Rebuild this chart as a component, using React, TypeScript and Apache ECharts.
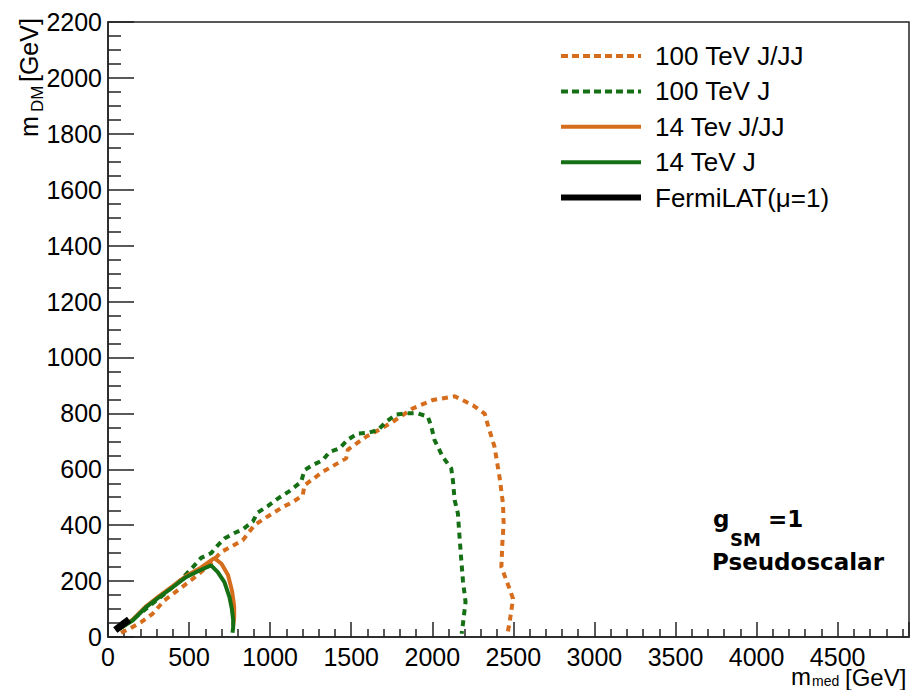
import React, { useEffect, useRef } from "react";
import * as echarts from "echarts";

// ---- data (m_med [GeV], m_DM [GeV]) ----
const seriesNames = ["100 TeV J/JJ", "100 TeV J", "14 Tev J/JJ", "14 TeV J", "FermiLAT(\u03bc=1)"];

const tev100JJJ: number[][] = [
  [80, 15], [132, 29], [204, 53], [275, 83], [348, 131], [430, 167], [512, 203], [560, 225],
  [630, 262], [697, 304], [769, 326], [831, 346], [903, 400], [965, 424], [1078, 465],
  [1140, 483], [1201, 507], [1212, 543], [1325, 591], [1469, 639], [1479, 670], [1593, 717],
  [1675, 742], [1757, 770], [1880, 818], [2004, 848], [2138, 861], [2251, 829], [2323, 799],
  [2343, 758], [2384, 680], [2415, 571], [2436, 477], [2440, 406], [2432, 334], [2426, 250],
  [2457, 203], [2498, 137], [2477, 53], [2465, 16],
];

const tev100J: number[][] = [
  [50, 22], [150, 62], [250, 108], [350, 155], [450, 205], [533, 256], [574, 283], [636, 300],
  [677, 328], [718, 352], [780, 372], [831, 385], [893, 413], [923, 445], [985, 468],
  [1047, 495], [1119, 522], [1191, 555], [1212, 597], [1263, 615], [1325, 633], [1366, 662],
  [1428, 675], [1479, 706], [1541, 728], [1602, 730], [1664, 740], [1716, 770], [1778, 796],
  [1840, 800], [1911, 800], [1973, 788], [1994, 752], [2014, 704], [2065, 644], [2117, 603],
  [2127, 561], [2138, 489], [2158, 442], [2168, 358], [2179, 274], [2189, 202], [2205, 125],
  [2189, 47], [2181, 12],
];

const tev14JJJ: number[][] = [
  [70, 29], [152, 62], [235, 110], [317, 147], [399, 182], [481, 218], [564, 245], [620, 268],
  [656, 282], [700, 262], [740, 222], [765, 165], [778, 110], [778, 70], [772, 40],
];

const tev14J: number[][] = [
  [70, 29], [152, 59], [235, 107], [317, 143], [399, 178], [481, 214], [564, 238], [636, 256],
  [677, 232], [718, 196], [749, 143], [764, 100], [772, 60], [772, 35], [768, 15],
];

const fermiLAT: number[][] = [[45, 25], [90, 45], [130, 62]];

const xTicks = { min: 0, max: 4940, interval: 500 };
const yTicks = { min: 0, max: 2200, interval: 200 };

const ORANGE = "#d56d1c";
const GREEN = "#157015";
const FONT = "'Liberation Sans', Arial, Helvetica, sans-serif";
const BOLD_FONT = "'DejaVu Sans', sans-serif";

export default function App() {
  const ref = useRef<HTMLDivElement>(null);

  useEffect(() => {
    if (!ref.current) return;
    const chart = echarts.init(ref.current, undefined, { renderer: "svg" });

    const dataSets = [tev100JJJ, tev100J, tev14JJJ, tev14J, fermiLAT];
    const colors = [ORANGE, GREEN, ORANGE, GREEN, "#000000"];
    const widths = [4, 4, 4, 4, 7];
    const legendWidths = [4, 4, 4, 4, 6];
    const types: any[] = [[6, 5], [6, 5], "solid", "solid", "solid"];

    const series = dataSets.map((d, i) => ({
      name: seriesNames[i],
      type: "line",
      data: d,
      symbol: "none",
      showSymbol: false,
      color: colors[i],
      lineStyle: { color: colors[i], width: widths[i], type: types[i] },
      z: 2 + i,
    }));

    const legendData = seriesNames.map((n, i) => ({
      name: n,
      itemStyle: { opacity: 0 },
      lineStyle: { color: colors[i], width: legendWidths[i], type: i < 2 ? [7, 4] : "solid" },
    }));

    const txt = (text: string, x: number, y: number, size: number, extra: any = {}) => ({
      type: "text",
      x,
      y,
      style: {
        text,
        fontSize: size,
        fontFamily: FONT,
        fill: "#000",
        textAlign: "left",
        textVerticalAlign: "middle",
        ...extra,
      },
    });

    chart.setOption({
      animation: false,
      backgroundColor: "#fff",
      grid: {
        left: 108,
        right: 3,
        top: 22,
        bottom: 53,
        show: true,
        borderColor: "#222",
        borderWidth: 1.5,
        containLabel: false,
      },
      legend: {
        data: legendData,
        orient: "vertical",
        left: 553,
        top: 38,
        itemWidth: 80,
        itemHeight: 14,
        itemGap: 9.4,
        itemStyle: { opacity: 0 },
        textStyle: {
          fontSize: 26,
          lineHeight: 26,
          fontFamily: FONT,
          color: "#000",
          padding: [0, 0, 0, 9],
        },
      },
      xAxis: {
        type: "value",
        min: xTicks.min,
        max: xTicks.max,
        interval: xTicks.interval,
        axisLine: { show: true, lineStyle: { color: "#222", width: 1.5 } },
        axisTick: { show: true, inside: true, length: 15, lineStyle: { color: "#222", width: 1.5 } },
        minorTick: { show: true, splitNumber: 5, length: 8, lineStyle: { color: "#222", width: 1.5 } },
        splitLine: { show: false },
        axisLabel: {
          fontSize: 25,
          lineHeight: 20,
          fontFamily: FONT,
          color: "#000",
          margin: 10,
          showMaxLabel: false,
          formatter: (v: number) => String(v),
        },
      },
      yAxis: {
        type: "value",
        min: yTicks.min,
        max: yTicks.max,
        interval: yTicks.interval,
        axisLine: { show: true, lineStyle: { color: "#222", width: 1.5 } },
        axisTick: { show: true, inside: true, length: 26, lineStyle: { color: "#222", width: 1.5 } },
        minorTick: { show: true, splitNumber: 4, length: 13, lineStyle: { color: "#222", width: 1.5 } },
        splitLine: { show: false },
        axisLabel: {
          fontSize: 25,
          fontFamily: FONT,
          color: "#000",
          margin: 6,
          formatter: (v: number) => String(v),
        },
      },
      series,
      graphic: [
        // x-axis title
        txt("m", 791, 676, 24, { lineHeight: 16 }),
        txt("med", 812, 681, 14, { lineHeight: 10 }),
        txt("[GeV]", 845, 677, 24, { lineHeight: 16 }),
        // y-axis title (rotated)
        { ...txt("m", 29, 137, 25), rotation: Math.PI / 2 },
        { ...txt("DM", 37, 112, 17), rotation: Math.PI / 2 },
        { ...txt(" [GeV]", 29, 89, 25), rotation: Math.PI / 2 },
        // annotation
        txt("g", 713, 519, 23, { fontFamily: BOLD_FONT, fontWeight: "bold" }),
        txt("SM", 730, 539, 18, { fontFamily: BOLD_FONT, fontWeight: "bold" }),
        txt("=1", 768, 519, 23, { fontFamily: BOLD_FONT, fontWeight: "bold" }),
        txt("Pseudoscalar", 712, 562, 23, { fontFamily: BOLD_FONT, fontWeight: "bold" }),
      ],
    });

    return () => chart.dispose();
  }, []);

  return (
    <div
      ref={ref}
      style={{ position: "absolute", left: 0, top: 0, width: 912, height: 690 }}
    />
  );
}
